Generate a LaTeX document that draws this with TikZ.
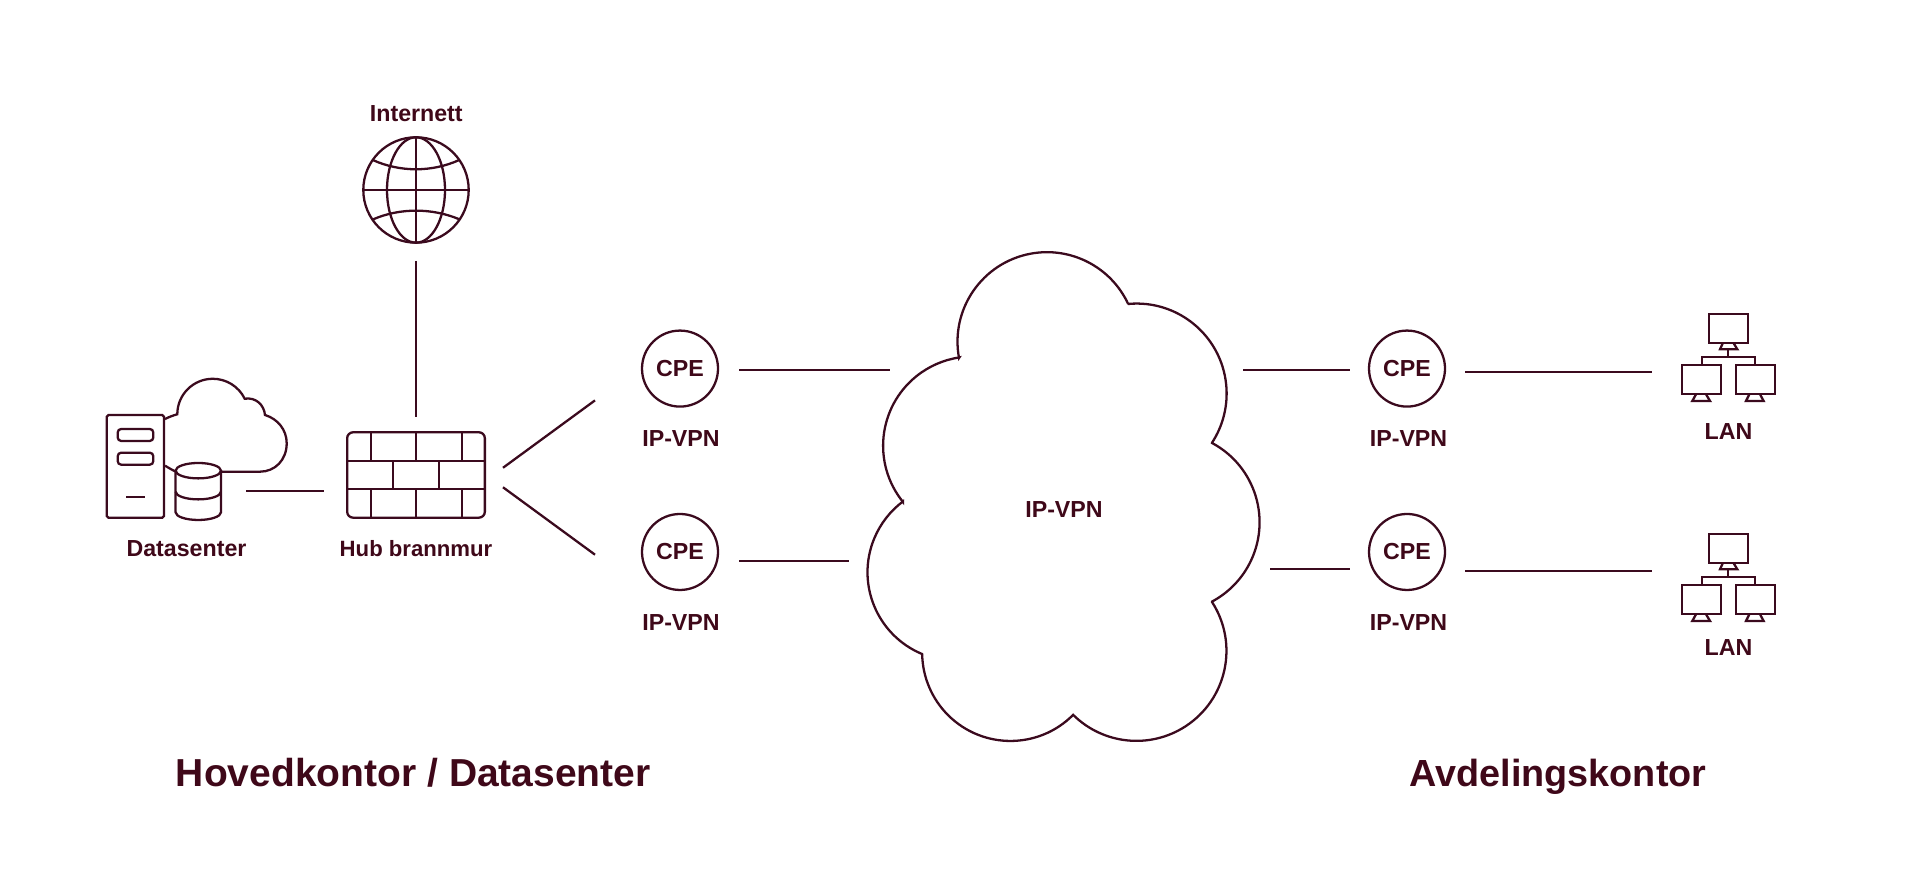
\documentclass[tikz,border=0pt]{standalone}
\usepackage{fontspec}
\setmainfont{Liberation Sans}
\usetikzlibrary{positioning,calc}
\definecolor{linec}{HTML}{3B0A1E}
\definecolor{textc}{HTML}{3F0819}
\tikzset{
  lw/.style={draw=linec, line width=0.65pt},
  link/.style={lw, line cap=butt},
  lbl/.style={text=textc, font=\fontsize{6.6}{8}\selectfont\bfseries, inner sep=0pt},
  ttl/.style={text=textc, font=\fontsize{11.1}{13}\selectfont\bfseries, inner sep=0pt, anchor=base},
  cpebox/.style={lw, circle, minimum size=7.6mm, inner sep=0pt, text=textc, font=\fontsize{6.6}{8}\selectfont\bfseries},
}
\begin{document}
\begin{tikzpicture}
  \useasboundingbox (0,0) rectangle (19.2,8.73);
  % internet
  \node[lw, circle, minimum size=10.54mm, inner sep=0pt] (globe) at (4.16,6.83) {};
  \draw[lw] (globe.center) ellipse [x radius=0.29, y radius=0.527];
  \draw[lw] (globe.north) -- (globe.south);
  \draw[lw] (globe.west) -- (globe.east);
  \draw[lw] (3.727,7.13) .. controls (4.0,7.006) and (4.32,7.006) .. (4.593,7.13);
  \draw[lw] (3.733,6.537) .. controls (4.0,6.652) and (4.32,6.652) .. (4.593,6.537);
  \node[lbl] (internet) at (4.163,7.59) {Internett};
  % datasenter
  \draw[lw, rounded corners=0.5pt] (1.067,3.553) rectangle (1.64,4.58);
  \draw[lw, rounded corners=1pt] (1.177,4.32) rectangle (1.533,4.44);
  \draw[lw, rounded corners=1pt] (1.177,4.083) rectangle (1.533,4.203);
  \draw[lw] (1.26,3.76) -- (1.45,3.76);
  \draw[lw] (1.65,4.54) .. controls (1.69,4.56) and (1.73,4.575) .. (1.773,4.587)
    arc[start angle=180, end angle=26, radius=0.355]
    .. controls (2.56,4.76) and (2.64,4.68) .. (2.65,4.58)
    .. controls (2.78,4.54) and (2.867,4.43) .. (2.867,4.297)
    .. controls (2.867,4.13) and (2.75,4.013) .. (2.60,4.013) -- (2.21,4.013);
  \draw[lw] (1.65,4.073) .. controls (1.69,4.05) and (1.72,4.03) .. (1.76,4.013);
  \draw[lw] (1.983,4.023) ellipse [x radius=0.227, y radius=0.077];
  \draw[lw] (1.756,4.023) -- (1.756,3.607) arc[start angle=180, end angle=360, x radius=0.227, y radius=0.077] -- (2.21,4.023);
  \draw[lw] (1.756,3.813) arc[start angle=180, end angle=360, x radius=0.227, y radius=0.077];
  \node[lbl] (datasenter) at (1.865,3.245) {Datasenter};
  % brannmur
  \node[lw, rounded corners=1.7pt, minimum width=13.77mm, minimum height=8.54mm, inner sep=0pt] (hub) at (4.16,3.98) {};
  \draw[lw] (3.473,4.123) -- (4.847,4.123);
  \draw[lw] (3.473,3.843) -- (4.847,3.843);
  \foreach \x in {3.707,4.16,4.617} {
    \draw[lw] (\x,4.407) -- (\x,4.123);
    \draw[lw] (\x,3.843) -- (\x,3.553);
  }
  \foreach \x in {3.933,4.39} { \draw[lw] (\x,4.123) -- (\x,3.843); }
  \node[lbl, font=\fontsize{6.3}{8}\selectfont\bfseries] (hublbl) at (4.16,3.245) {Hub brannmur};
  % skyen
  \coordinate (a) at (9.59,5.15);
  \coordinate (b) at (11.28,5.69);
  \coordinate (c) at (12.12,4.30);
  \coordinate (d) at (12.12,2.71);
  \coordinate (e) at (10.73,1.58);
  \coordinate (f) at (9.22,2.19);
  \coordinate (g) at (9.03,3.71);
  \draw[lw] (a) arc[start angle=190.5, end angle=24.9, radius=0.895]
    -- (b) arc[start angle=95.5, end angle=-33, radius=0.90]
    -- (c) arc[start angle=61.9, end angle=-61.8, radius=0.899]
    -- (d) arc[start angle=32.9, end angle=-134.7, radius=0.90]
    -- (e) arc[start angle=-44.9, end angle=-179, radius=0.883]
    -- (f) arc[start angle=247.4, end angle=126.8, radius=0.885]
    -- (g) arc[start angle=219, end angle=98.4, radius=0.893] -- cycle;
  \node[lbl] (vpn) at (10.64,3.63) {IP-VPN};
  % cpe
  \node[cpebox] (cpeA) at (6.80,5.044) {CPE};
  \node[cpebox] (cpeB) at (6.80,3.21) {CPE};
  \node[cpebox] (cpeC) at (14.07,5.044) {CPE};
  \node[cpebox] (cpeD) at (14.07,3.21) {CPE};
  \node[lbl] at (6.81,4.34) {IP-VPN};
  \node[lbl] at (6.81,2.50) {IP-VPN};
  \node[lbl] at (14.085,4.34) {IP-VPN};
  \node[lbl] at (14.085,2.50) {IP-VPN};
  % lan
  \foreach \n/\y in {lanA/5.163,lanB/2.963} {
    \begin{scope}[shift={(17.283,\y)}]
      \coordinate (\n) at (0,0);
      \draw[lw] (-0.19,0.14) rectangle (0.194,0.427);
      \draw[lw] (-0.053,0.14) -- (-0.083,0.074) -- (0.09,0.074) -- (0.05,0.14);
      \draw[lw] (0,0.074) -- (0,0);
      \draw[lw] (-0.266,-0.076) -- (-0.266,0) -- (0.267,0) -- (0.267,-0.076);
      \draw[lw] (-0.46,-0.083) rectangle (-0.076,-0.376);
      \draw[lw] (-0.323,-0.376) -- (-0.36,-0.443) -- (-0.183,-0.443) -- (-0.223,-0.376);
      \draw[lw] (0.077,-0.083) rectangle (0.467,-0.376);
      \draw[lw] (0.21,-0.376) -- (0.177,-0.443) -- (0.353,-0.443) -- (0.317,-0.376);
    \end{scope}
  }
  \node[lbl] at (17.285,4.41) {LAN};
  \node[lbl] at (17.285,2.255) {LAN};
  % lines
  \coordinate (dcEnd) at (2.46,3.82);
  \coordinate (forkA) at (5.95,4.726);
  \coordinate (forkB) at (5.95,3.183);
  \coordinate (skyA) at (8.90,5.03);
  \coordinate (skyB) at (8.49,3.12);
  \coordinate (skyC) at (12.43,5.03);
  \coordinate (skyD) at (12.70,3.04);
  \coordinate (endA) at (16.52,5.01);
  \coordinate (endB) at (16.52,3.02);
  \draw[link, shorten <=1.7mm, shorten >=1.4mm] (globe.south) -- (hub.north);
  \draw[link, shorten >=2.2mm] (dcEnd) -- (hub.west |- dcEnd);
  \draw[link] (5.03,4.052) -- (forkA);
  \draw[link] (5.03,3.857) -- (forkB);
  \draw[link, shorten <=2.0mm] (cpeA.east |- skyA) -- (skyA);
  \draw[link, shorten <=2.0mm] (cpeB.east |- skyB) -- (skyB);
  \draw[link, shorten >=1.8mm] (skyC) -- (cpeC.west |- skyC);
  \draw[link, shorten >=1.8mm] (skyD) -- (cpeD.west |- skyD);
  \draw[link, shorten <=1.9mm] (cpeC.east |- endA) -- (endA);
  \draw[link, shorten <=1.9mm] (cpeD.east |- endB) -- (endB);
  % titler
  \node[ttl] (hoved) at (4.133,0.863) {Hovedkontor / Datasenter};
  \node[ttl, font=\fontsize{10.75}{13}\selectfont\bfseries] (avd) at (15.58,0.863) {Avdelingskontor};
\end{tikzpicture}
\end{document}
